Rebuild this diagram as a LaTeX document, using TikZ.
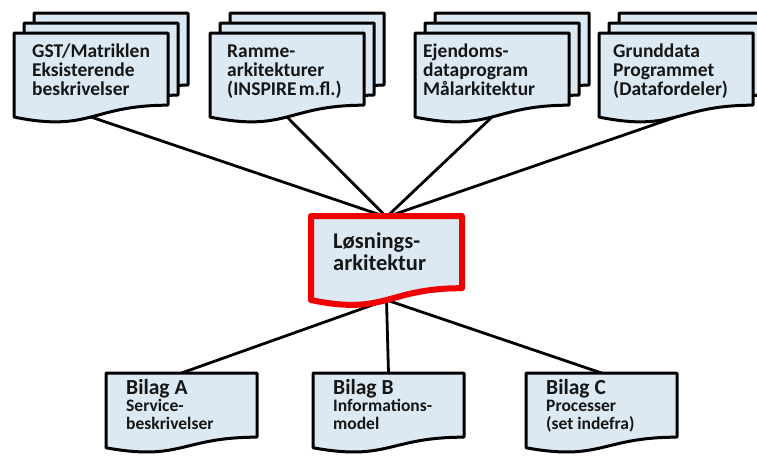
\documentclass[tikz,border=0pt]{standalone}
\usepackage{fontspec}
\setmainfont{Carlito}
\definecolor{docfill}{RGB}{220,232,242}
\definecolor{txtcol}{RGB}{22,22,22}
\definecolor{hilite}{RGB}{240,0,0}

% document outline: top-left x, top-left y, width, height, style
\newcommand\docshape[5]{%
  \draw[#5] (#1,#2) -- ({#1+#3},#2) -- ({#1+#3},{#2+0.802*#4})
    .. controls ({#1+0.5*#3},{#2+0.802*#4}) and ({#1+0.5*#3},{#2+1.1075*#4})
    .. (#1,{#2+0.934*#4}) -- cycle;}
% stack of three documents, front one at (x,y)
\newcommand\docstack[2]{%
  \docshape{#1+20}{#2-20}{154}{90}{docbox}
  \docshape{#1+10}{#2-10}{154}{90}{docbox}
  \docshape{#1}{#2}{154}{90}{docbox}}

\tikzset{
  docbox/.style={draw=black, line width=3pt, line join=round, fill=docfill},
  mainbox/.style={draw=hilite, line width=6pt, line join=round, fill=docfill},
  link/.style={draw=black, line width=2.8pt},
  toptxt/.style={anchor=base west, inner sep=0pt, text=txtcol,
    font=\bfseries\fontsize{19.5}{19.5}\selectfont},
  midtxt/.style={anchor=base west, inner sep=0pt, text=txtcol,
    font=\bfseries\fontsize{22.5}{22.5}\selectfont},
  headtxt/.style={anchor=base west, inner sep=0pt, text=txtcol,
    font=\bfseries\fontsize{21.5}{21.5}\selectfont},
  subtxt/.style={anchor=base west, inner sep=0pt, text=txtcol,
    font=\bfseries\fontsize{17.5}{17.5}\selectfont},
}

\begin{document}
\begin{tikzpicture}[x=1pt, y=-1pt]
\useasboundingbox (0,0) rectangle (757,459);
\clip (0,0) rectangle (757,459);

% connection points
\coordinate (s1) at (91,117);
\coordinate (s2) at (287,117);
\coordinate (s3) at (492,117);
\coordinate (s4) at (676,117);
\coordinate (mtop) at (386.5,217);
\coordinate (mbot) at (386.5,300);
\coordinate (ba) at (181.5,373);
\coordinate (bb) at (388.5,373);
\coordinate (bc) at (601.5,373);

% connectors
\draw[link] (s1) -- (mtop);
\draw[link] (s2) -- (mtop);
\draw[link] (s3) -- (mtop);
\draw[link] (s4) -- (mtop);
\draw[link] (mbot) -- (ba);
\draw[link] (mbot) -- (bb);
\draw[link] (mbot) -- (bc);

% source document stacks
\docstack{14}{33}
\docstack{210}{33}
\docstack{415}{33}
\docstack{599}{33}

% central document
\docshape{311}{216}{151}{90}{mainbox}

% appendix documents
\docshape{106}{373}{151}{80}{docbox}
\docshape{313}{373}{151}{80}{docbox}
\docshape{526}{373}{151}{80}{docbox}

% texts of the document stacks
\node[toptxt] (t1a) at (32,57) {GST/Matriklen};
\node[toptxt] (t1b) at (32,76) {Eksisterende};
\node[toptxt] (t1c) at (32,95) {beskrivelser};

\node[toptxt] (t2a) at (227,57) {Ramme-};
\node[toptxt] (t2b) at (227,76) {arkitekturer};
\node[toptxt] (t2c) at (227,95) {(INSPIRE\hspace{0.12em}m.fl.)};

\node[toptxt] (t3a) at (423,57) {Ejendoms-};
\node[toptxt] (t3b) at (423,76) {dataprogram};
\node[toptxt] (t3c) at (423,95) {Målarkitektur};

\node[toptxt] (t4a) at (613,57) {Grunddata};
\node[toptxt] (t4b) at (613,76) {Programmet};
\node[toptxt] (t4c) at (613,95) {(Datafordeler)};

% text of the central document
\node[midtxt] (ma) at (333,248) {Løsnings-};
\node[midtxt] (mb) at (333,270) {arkitektur};

% texts of the appendices
\node[headtxt] (aa) at (126,394) {Bilag A};
\node[subtxt] (ab) at (126,411) {Service-};
\node[subtxt] (ac) at (126,429) {beskrivelser};

\node[headtxt] (ba1) at (333,394) {Bilag B};
\node[subtxt] (bb1) at (333,411) {Informations-};
\node[subtxt] (bc1) at (333,429) {model};

\node[headtxt] (ca) at (546,394) {Bilag C};
\node[subtxt] (cb) at (546,411) {Processer};
\node[subtxt] (cc) at (546,429) {(set indefra)};
\end{tikzpicture}
\end{document}
